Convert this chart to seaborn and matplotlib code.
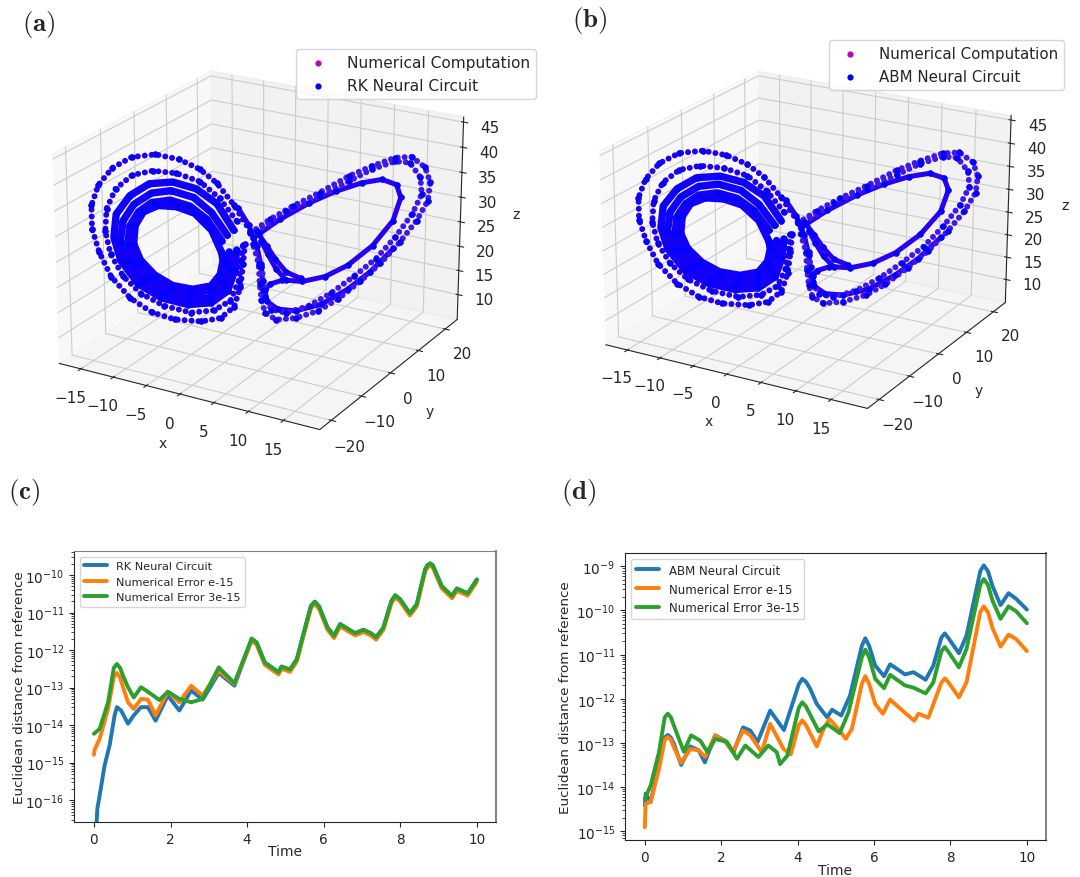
import matplotlib
matplotlib.use("Agg")
import numpy as np
import pandas as pd
import matplotlib.pyplot as plt
import seaborn as sns

sns.set_style("ticks")
plt.rcParams['font.family'] = ['DejaVu Sans']
plt.rcParams['mathtext.fontset'] = 'cm'

# attractor strands. y can't be separated from x in one
# projection, so it is taken as y = x, which the trajectory roughly follows
left_outer_x = [-0.5, -2.3, -4.1, -5.9, -8.1, -10.6, -13.1, -15.2, -16.7, -17.5, -17.5, -16.8, -15.6, -13.6, -11.3, -8.8, -5.9, -3.8, -2.3, -1.6, -1.3, -1.1]
left_outer_z = [27.2, 33.1, 37.9, 41.0, 43.3, 44.6, 44.3, 42.2, 38.8, 34.6, 29.6, 24.5, 19.1, 14.2, 10.8, 8.9, 8.1, 8.6, 10.9, 15.2, 20.1, 24.4]
left_second_x = [-2.0, -3.8, -5.9, -8.4, -10.9, -13.1, -14.9, -15.9, -16.1, -15.6, -14.3, -12.4, -9.9, -7.0, -4.5, -2.7, -1.8, -1.5, -1.3]
left_second_z = [29.6, 34.6, 38.4, 40.4, 41.2, 40.5, 37.8, 33.7, 28.9, 24.0, 19.0, 15.0, 12.0, 10.2, 10.4, 12.3, 16.5, 20.8, 24.3]
left_third_x = [-2.3, -4.1, -6.3, -8.8, -11.3, -13.4, -14.9, -15.2, -14.5, -12.7, -10.2, -7.3, -4.8, -3.0, -2.2, -2.0]
left_third_z = [27.6, 33.5, 36.9, 38.6, 38.5, 36.2, 32.4, 27.5, 22.4, 17.2, 13.8, 12.0, 12.1, 14.5, 19.0, 23.3]
left_fourth_x = [-3.0, -4.7, -6.6, -9.0, -11.1, -13.0, -14.2, -14.5, -13.8, -12.2, -9.9, -7.3, -5.0, -3.4, -2.8, -2.8]
left_fourth_z = [26.6, 31.7, 35.1, 36.8, 36.5, 34.3, 30.9, 26.6, 22.3, 17.8, 14.8, 13.1, 13.2, 15.5, 19.4, 23.0]
left_fifth_x = [-3.6, -5.2, -7.0, -9.1, -11.1, -12.5, -13.5, -13.7, -13.0, -11.5, -9.3, -7.0, -4.8, -3.8, -3.3]
left_fifth_z = [25.5, 30.3, 33.3, 34.8, 34.5, 32.7, 29.7, 25.8, 21.8, 18.4, 15.7, 14.4, 14.9, 17.0, 20.5]
left_inner_x = [-3.6, -4.7, -6.5, -8.4, -10.4, -12.0, -12.9, -13.1, -12.4, -10.9, -9.0, -6.8, -4.8, -3.8, -3.5, -3.6]
left_inner_z = [22.8, 27.9, 31.7, 33.3, 33.8, 32.6, 29.8, 25.9, 22.3, 18.9, 16.4, 15.3, 15.8, 18.2, 21.0, 22.8]
right_outer_x = [-0.5, 1.6, 4.1, 7.0, 10.2, 12.7, 15.2, 17.0, 18.5, 19.1, 18.9, 17.7, 15.9, 13.8, 11.6, 9.1, 7.0, 4.5, 2.3, 1.1, 0.7, 0.5, 0.4, -0.2]
right_outer_z = [26.8, 29.5, 32.1, 34.7, 37.9, 39.8, 41.3, 41.3, 38.9, 35.6, 31.7, 27.5, 23.0, 18.6, 14.9, 11.2, 8.9, 7.6, 7.5, 9.2, 12.1, 15.7, 20.0, 24.3]
right_second_x = [0.2, 3.4, 7.0, 10.2, 12.7, 15.2, 16.8, 18.0, 18.2, 17.2, 15.4, 13.3, 10.9, 8.4, 5.9, 3.4, 1.8, 1.1, 0.9, 0.7]
right_second_z = [27.1, 31.1, 33.9, 36.8, 39.1, 40.5, 40.1, 36.8, 33.2, 29.0, 24.2, 19.7, 16.1, 12.7, 10.1, 8.9, 9.8, 12.7, 16.3, 19.9]
right_inner_x = [-0.2, 2.7, 5.9, 8.8, 11.6, 13.8, 15.4, 15.9, 15.1, 12.9, 10.2, 7.7, 5.2, 3.4, 2.3, 1.4, 0.7]
right_inner_z = [25.7, 29.4, 32.6, 34.8, 36.3, 36.8, 35.5, 32.7, 27.8, 22.6, 18.6, 16.4, 15.6, 16.1, 18.7, 22.0, 24.9]
tail_x = [5.0, 3.4, 2.2, 1.3, 0.4]
tail_z = [16.3, 17.9, 20.9, 23.8, 26.4]
hook_x = [2.9, 1.6, 1.1, 1.3, 2.5, 4.5, 7.3, 10.2, 12.7, 15.2]
hook_z = [16.1, 15.4, 14.2, 11.7, 9.8, 9.2, 10.3, 13.3, 16.9, 21.7]
cross_x = [-1.8, -0.7, 0.2, 0.7, 0.9]
cross_z = [32.3, 28.6, 23.9, 19.2, 14.2]

x_ticks = [-15, -10, -5, 0, 5, 10, 15]
y_ticks = [-20, -10, 0, 10, 20]
z_ticks = [10, 15, 20, 25, 30, 35, 40, 45]

# panel (c), log10 of the distance
c_blue_t = [0.07, 0.09, 0.15, 0.28, 0.41, 0.54, 0.6, 0.71, 0.89, 1.04, 1.23, 1.41, 1.61, 1.93, 2.23, 2.54, 2.84, 3.26, 3.67, 4.12]
c_blue = [-16.58, -16.22, -15.87, -15.07, -14.54, -13.74, -13.52, -13.61, -13.96, -13.74, -13.52, -13.52, -13.88, -13.21, -13.61, -13.08, -13.32, -12.61, -12.95, -11.71]
c_orange_t = [0, 0.02, 0.15, 0.37, 0.52, 0.6, 0.68, 0.76, 0.89, 1.04, 1.23, 1.41, 1.61, 1.93, 2.23, 2.54, 2.84, 3.26, 3.67, 4.12]
c_orange = [-14.79, -14.65, -14.36, -13.57, -12.72, -12.61, -12.72, -12.98, -13.39, -13.57, -13.30, -13.32, -13.74, -13.11, -13.39, -12.95, -13.21, -12.55, -12.90, -11.75]
c_green_t = [0, 0.15, 0.37, 0.52, 0.6, 0.68, 0.76, 0.89, 1.04, 1.23, 1.41, 1.71, 1.93, 2.23, 2.54, 2.84, 3.26, 3.67, 4.12]
c_green = [-14.23, -14.10, -13.39, -12.47, -12.37, -12.47, -12.68, -12.99, -13.26, -12.99, -13.11, -13.33, -13.11, -13.30, -13.39, -13.30, -12.46, -12.88, -11.69]
c_late_t = [4.25, 4.46, 4.82, 4.9, 5.12, 5.3, 5.55, 5.67, 5.77, 5.88, 6.1, 6.27, 6.43, 6.82, 7.04, 7.23, 7.37, 7.56, 7.77, 7.87, 8.0, 8.25, 8.43, 8.65, 8.71, 8.78, 8.85, 8.91, 9.08, 9.35, 9.48, 9.76, 10]
c_late_green = [-11.80, -12.33, -12.59, -12.44, -12.52, -12.24, -11.27, -10.82, -10.71, -10.84, -11.40, -11.62, -11.31, -11.55, -11.46, -11.55, -11.66, -11.40, -10.69, -10.54, -10.65, -11.02, -10.78, -9.85, -9.74, -9.69, -9.74, -9.89, -10.29, -10.56, -10.36, -10.49, -10.12]
c_late_orange = [-11.86, -12.39, -12.65, -12.50, -12.58, -12.30, -11.33, -10.88, -10.77, -10.90, -11.46, -11.68, -11.37, -11.61, -11.52, -11.61, -11.72, -11.46, -10.75, -10.60, -10.71, -11.08, -10.84, -9.91, -9.80, -9.75, -9.80, -9.95, -10.35, -10.62, -10.42, -10.55, -10.18]

# panel (d), log10 of the distance
d_blue_t = [0, 0.02, 0.15, 0.37, 0.52, 0.6, 0.68, 0.76, 0.95, 1.19, 1.41, 1.57, 1.84, 2.1, 2.32, 2.57, 2.76, 2.95, 3.28, 3.64, 4.03, 4.12, 4.22, 4.33, 4.5, 4.77, 4.9, 5.14, 5.37, 5.68, 5.77, 5.87, 6.03, 6.26, 6.42, 6.81, 7.03, 7.35, 7.55, 7.76, 7.85, 7.94, 8.22, 8.42, 8.78, 8.87, 8.98, 9.1, 9.31, 9.52, 9.72, 10]
d_blue = [-14.42, -14.15, -14.34, -13.51, -12.88, -12.82, -12.88, -13.02, -13.50, -13.08, -13.17, -13.44, -12.83, -12.95, -13.21, -12.65, -12.72, -12.98, -12.27, -12.71, -11.67, -11.55, -11.62, -11.78, -12.12, -12.42, -12.25, -12.38, -11.93, -10.80, -10.63, -10.80, -11.25, -11.49, -11.22, -11.45, -11.40, -11.57, -11.25, -10.62, -10.52, -10.62, -10.97, -10.57, -9.11, -8.98, -9.11, -9.45, -9.88, -9.61, -9.74, -9.98]
d_orange_t = [0, 0.02, 0.15, 0.37, 0.52, 0.6, 0.68, 0.76, 0.95, 1.19, 1.41, 1.58, 1.84, 2.1, 2.3, 2.57, 2.76, 3.06, 3.28, 3.63, 3.82, 4.03, 4.12, 4.22, 4.5, 4.68, 4.83, 5.03, 5.26, 5.42, 5.68, 5.77, 5.87, 6.03, 6.23, 6.42, 6.81, 7.05, 7.16, 7.42, 7.76, 7.85, 7.94, 8.22, 8.42, 8.78, 8.87, 8.98, 9.1, 9.31, 9.52, 9.72, 10]
d_orange = [-14.91, -14.38, -14.34, -13.59, -12.93, -12.87, -12.93, -13.10, -13.45, -13.14, -13.17, -13.32, -12.83, -12.97, -13.21, -12.72, -12.83, -13.21, -12.57, -13.14, -13.26, -12.60, -12.49, -12.60, -13.08, -12.68, -12.46, -12.65, -12.91, -12.68, -11.66, -11.49, -11.66, -12.12, -12.34, -12.02, -12.32, -12.50, -12.34, -12.43, -11.64, -11.54, -11.62, -11.97, -11.63, -10.04, -9.91, -10.04, -10.40, -10.82, -10.55, -10.65, -10.92]
d_green_t = [0, 0.15, 0.37, 0.52, 0.6, 0.68, 0.76, 1.02, 1.21, 1.45, 1.64, 1.84, 2.15, 2.41, 2.63, 2.97, 3.23, 3.45, 3.54, 3.73, 4.03, 4.12, 4.22, 4.55, 4.78, 5.1, 5.33, 5.68, 5.77, 5.87, 6.03, 6.26, 6.42, 6.81, 7.03, 7.35, 7.55, 7.76, 7.85, 7.94, 8.22, 8.42, 8.78, 8.87, 8.98, 9.1, 9.31, 9.52, 9.72, 10]
d_green = [-14.27, -13.97, -13.21, -12.42, -12.34, -12.42, -12.61, -13.20, -12.83, -12.95, -13.21, -12.91, -12.98, -13.36, -13.06, -13.32, -13.06, -13.21, -13.48, -13.29, -12.20, -12.08, -12.18, -12.74, -12.58, -12.78, -12.31, -11.06, -10.89, -11.06, -11.55, -11.76, -11.46, -11.70, -11.75, -11.88, -11.63, -10.93, -10.83, -10.93, -11.29, -10.87, -9.42, -9.29, -9.42, -9.78, -10.19, -9.91, -10.02, -10.29]

beaded = [(left_outer_x, left_outer_z, "#2000f2"), (left_second_x, left_second_z, "#2000f2"),
          (right_outer_x, right_outer_z, "#3f18ea"), (right_second_x, right_second_z, "#3f18ea")]
band = [(left_third_x, left_third_z), (left_fourth_x, left_fourth_z), (left_fifth_x, left_fifth_z), (left_inner_x, left_inner_z)]
thin = [(right_inner_x, right_inner_z), (tail_x, tail_z), (hook_x, hook_z), (cross_x, cross_z)]

# perspective made the first reading slightly too wide, pull it in
x_fix = 0.945
z_fix = 0.925


def fix_x(xs):
    return np.array(xs) * x_fix


def fix_z(zs):
    return 25.7 + (np.array(zs) - 25.7) * z_fix


def draw_attractor(ax, name, legend_pos, legend_size, elev, z_aspect):
    strands = [s[:2] for s in beaded] + band + thin
    all_x = fix_x(np.concatenate([s[0] for s in strands]))
    all_z = fix_z(np.concatenate([s[1] for s in strands]))
    ax.scatter(all_x, all_x, all_z, c="m", s=12, depthshade=False, label="Numerical Computation")
    for xs, zs in band:
        ax.plot(fix_x(xs), fix_x(xs), fix_z(zs), color="#1200f8", lw=5.3, solid_capstyle="round", solid_joinstyle="round")
    for xs, zs in thin:
        ax.plot(fix_x(xs), fix_x(xs), fix_z(zs), color="#2a00f0", lw=3.6, solid_capstyle="round", solid_joinstyle="round")
    for xs, zs, col in beaded:
        ax.plot(fix_x(xs), fix_x(xs), fix_z(zs), color=col, lw=4.3, linestyle=(0, (0.01, 1.15)), dash_capstyle="round")
    ax.scatter(all_x, all_x, all_z, c="b", s=12, depthshade=False, label=name)
    ax.view_init(elev=elev, azim=-60)
    ax.set_box_aspect((4, 4, z_aspect))
    ax.set_xlim(-18.35, 20.1)
    ax.set_ylim(-23.7, 24.6)
    ax.set_zlim(4.8, 46)
    ax.set_xticks(x_ticks)
    ax.set_yticks(y_ticks)
    ax.set_zticks(z_ticks)
    ax.set_xlabel("x")
    ax.set_ylabel("y")
    ax.set_zlabel("z")
    ax.tick_params(labelsize=11)
    ax.grid(True)
    ax.legend(loc="upper left", bbox_to_anchor=legend_pos, bbox_transform=fig.transFigure,
              fontsize=legend_size, handletextpad=0.9, borderaxespad=0)


def draw_errors(ax, series, ylim, decades, legend_size, xpad, ypad):
    rows = []
    for label, ts, vals in series:
        rows.append(pd.DataFrame({"Time": ts, "dist": 10.0 ** np.array(vals), "curve": label}))
    df = pd.concat(rows)
    sns.lineplot(data=df, x="Time", y="dist", hue="curve", palette="tab10", lw=2.8,
                 estimator=None, sort=False, ax=ax)
    ax.set_yscale("log")
    ax.set_yticks([10.0 ** e for e in decades])
    ax.set_xlim(-0.52, 10.5)
    ax.set_ylim(10.0 ** ylim[0], 10.0 ** ylim[1])
    ax.set_xticks([0, 2, 4, 6, 8, 10])
    ax.set_xlabel("Time", fontsize=10, labelpad=xpad)
    ax.set_ylabel("Euclidean distance from reference", fontsize=9.7, labelpad=ypad)
    ax.tick_params(labelsize=9.8)
    ax.spines["right"].set_color("0.5")
    ax.spines["right"].set_linewidth(1.4)
    leg = ax.legend(loc="upper left", fontsize=legend_size)
    leg.set_title(None)


fig = plt.figure(figsize=(10.8, 8.78), dpi=100)

ax_a = fig.add_axes([26 / 1080, 401 / 878, 460 / 1080, 460 / 878], projection="3d")
draw_attractor(ax_a, "RK Neural Circuit", (0.274, 0.943), 11.1, 22, 3)
ax_b = fig.add_axes([577 / 1080, 415 / 878, 453 / 1080, 453 / 878], projection="3d")
draw_attractor(ax_b, "ABM Neural Circuit", (0.768, 0.953), 10.8, 21, 2.75)

ax_c = fig.add_axes([74 / 1080, 1 - 823 / 878, 422 / 1080, 271 / 878])
draw_errors(ax_c, [("RK Neural Circuit", c_blue_t + c_late_t, c_blue + c_late_green),
                   ("Numerical Error e-15", c_orange_t + c_late_t, c_orange + c_late_orange),
                   ("Numerical Error 3e-15", c_green_t + c_late_t, c_green + c_late_green)],
            (-16.58, -9.36), range(-16, -9), 8.1, -1.5, -0.6)
ax_c.spines["top"].set_color("0.5")
ax_d = fig.add_axes([625 / 1080, 1 - 841 / 878, 421 / 1080, 287 / 878])
draw_errors(ax_d, [("ABM Neural Circuit", d_blue_t, d_blue),
                   ("Numerical Error e-15", d_orange_t, d_orange),
                   ("Numerical Error 3e-15", d_green_t, d_green)],
            (-15.2, -8.7), range(-15, -8), 8.5, -0.5, 3)

for lab, px, py in [("a", 22, 24), ("b", 572, 21), ("c", 8, 493), ("d", 561, 493)]:
    fig.text(px / 1080, 1 - py / 878, r"$\mathbf{(" + lab + r")}$", fontsize=19.5, va="center", ha="left")

fig.savefig("out.png", dpi=100)
